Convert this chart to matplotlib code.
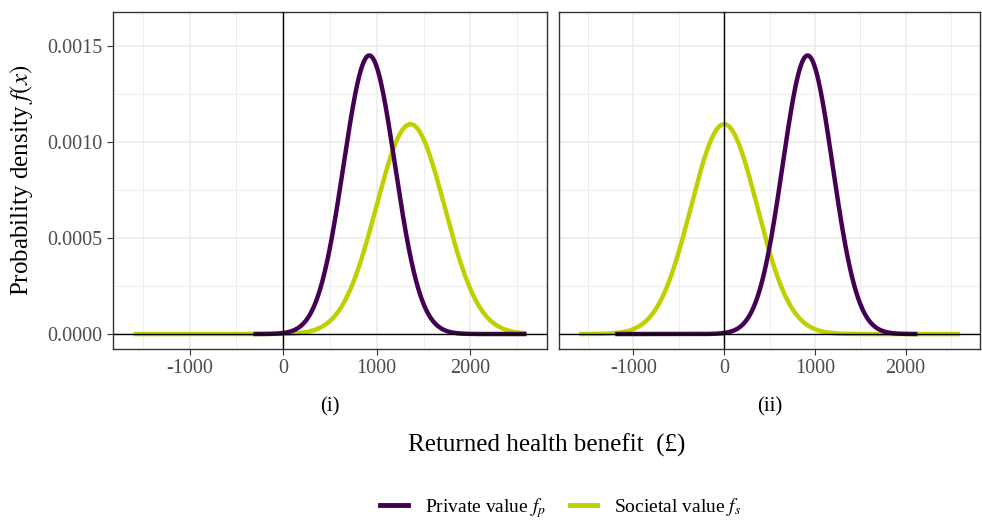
import numpy as np
import matplotlib
matplotlib.use("Agg")
import matplotlib.pyplot as plt
from matplotlib.ticker import MultipleLocator
from matplotlib.lines import Line2D

plt.rcParams['font.family'] = ['Liberation Serif', 'DejaVu Serif']
plt.rcParams['mathtext.fontset'] = 'stix'

# Normal density parameters (mean, sd) per panel
panels = ['(i)', '(ii)']
private_mean = [920, 920]
private_sd = [275, 275]
private_range = [(-320, 2600), (-1200, 2130)]
societal_mean = [1360, 0]
societal_sd = [365, 365]
societal_range = [(-1600, 2600), (-1600, 2600)]

purple = '#440154'
green = '#BFD000'
grid_col = '#EBEBEB'


def normal_pdf(x, mu, sd):
    return np.exp(-0.5 * ((x - mu) / sd) ** 2) / (sd * np.sqrt(2 * np.pi))


W, H = 982, 521
fig = plt.figure(figsize=(W / 100, H / 100), dpi=100)

boxes = [(113, 547), (559, 980)]
top, bottom = 12, 349

axes = []
for i, (x0, x1) in enumerate(boxes):
    ax = fig.add_axes([x0 / W, (H - bottom) / H, (x1 - x0) / W, (bottom - top) / H])
    axes.append(ax)

    xs = np.linspace(*societal_range[i], 600)
    ax.plot(xs, normal_pdf(xs, societal_mean[i], societal_sd[i]), color=green, lw=3.2, zorder=3,
            solid_capstyle='butt')
    xp = np.linspace(*private_range[i], 600)
    ax.plot(xp, normal_pdf(xp, private_mean[i], private_sd[i]), color=purple, lw=3.2, zorder=4,
            solid_capstyle='butt')

    ax.axhline(0, color='black', lw=1, zorder=5)
    ax.axvline(0, color='black', lw=1, zorder=5)

    ax.set_xlim(-1820, 2820)
    ax.set_ylim(-0.000078, 0.001677)
    ax.xaxis.set_major_locator(MultipleLocator(1000))
    ax.xaxis.set_minor_locator(MultipleLocator(500))
    ax.yaxis.set_major_locator(MultipleLocator(0.0005))
    ax.yaxis.set_minor_locator(MultipleLocator(0.00025))
    ax.grid(which='major', color=grid_col, lw=1.1, zorder=0)
    ax.grid(which='minor', color=grid_col, lw=0.6, zorder=0)
    ax.set_axisbelow(True)
    ax.tick_params(which='major', direction='out', length=4, width=0.8, color='#333333',
                   labelsize=14.5, labelcolor='#4D4D4D')
    ax.tick_params(which='minor', length=0)
    for s in ax.spines.values():
        s.set_color('#333333')
        s.set_linewidth(1)
    ax.set_xticks([-1000, 0, 1000, 2000])
    ax.set_xticklabels(['-1000', '0', '1000', '2000'])
    if i == 0:
        ax.yaxis.set_major_formatter(lambda v, p: f'{v:.4f}')
    else:
        ax.tick_params(axis='y', which='both', left=False, labelleft=False)
    ax.text(0.5, -0.172, panels[i], transform=ax.transAxes, ha='center', va='center', fontsize=15)

fig.text((113 + 980) / 2 / W, 1 - 445 / H, r'Returned health benefit  (£)', ha='center',
         va='center', fontsize=18)
fig.text(22 / W, 1 - 180 / H, r'Probability density $f(x)$', rotation=90, ha='center',
         va='center', fontsize=18)

handles = [Line2D([], [], color=purple, lw=3.5), Line2D([], [], color=green, lw=3.5)]
labels = [r'Private value $f_p$', r'Societal value $f_s$']
fig.legend(handles, labels, loc='center', bbox_to_anchor=(561 / W, 1 - 508 / H), ncol=2,
           frameon=False, fontsize=14, handlelength=1.4, columnspacing=1.2, handletextpad=0.9)

fig.savefig('out.png', dpi=100)
